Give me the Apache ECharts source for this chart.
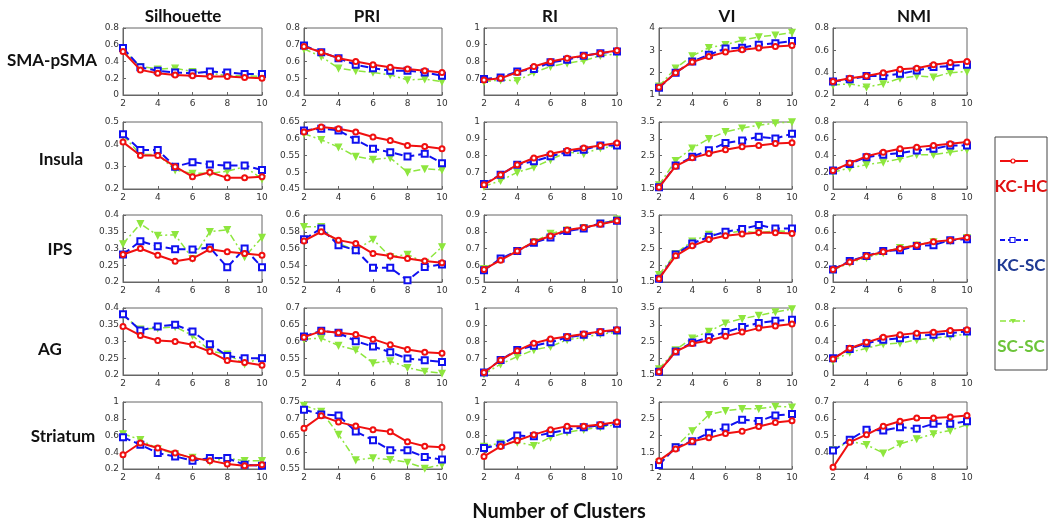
<!DOCTYPE html>
<html><head><meta charset="utf-8">
<script src="https://cdn.jsdelivr.net/npm/echarts@6/dist/echarts.min.js"></script>
<style>html,body{margin:0;padding:0;background:#fff}#c{width:1050px;height:522px}</style>
</head><body><div id="c"></div>
<script>
// ---------- DATA ----------
const clusters = [2,3,4,5,6,7,8,9,10];
const metrics = ['Silhouette','PRI','RI','VI','NMI'];
const regions = ['SMA-pSMA','Insula','IPS','AG','Striatum'];
const seriesNames = ['KC-HC','KC-SC','SC-SC'];
const xTicks = [2,4,6,8,10];

// each array: [Silhouette, PRI, RI, VI, NMI]
const SMA_KCHC = [
  [0.52,0.30,0.26,0.24,0.23,0.22,0.22,0.21,0.20],
  [0.69,0.655,0.62,0.60,0.58,0.565,0.555,0.545,0.535],
  [0.69,0.70,0.735,0.77,0.80,0.82,0.835,0.85,0.865],
  [1.35,2.0,2.48,2.72,2.92,3.03,3.1,3.17,3.22],
  [0.32,0.35,0.37,0.40,0.43,0.44,0.47,0.49,0.50]];
const SMA_KCSC = [
  [0.56,0.33,0.29,0.27,0.26,0.28,0.27,0.25,0.25],
  [0.695,0.655,0.62,0.58,0.56,0.545,0.545,0.535,0.515],
  [0.695,0.705,0.74,0.755,0.795,0.81,0.835,0.85,0.86],
  [1.32,2.0,2.5,2.8,3.08,3.12,3.25,3.32,3.42],
  [0.32,0.34,0.37,0.37,0.39,0.42,0.45,0.46,0.47]];
const SMA_SCSC = [
  [0.54,0.34,0.31,0.32,0.28,0.26,0.23,0.23,0.22],
  [0.675,0.63,0.56,0.545,0.535,0.52,0.49,0.495,0.48],
  [0.68,0.69,0.685,0.735,0.77,0.79,0.805,0.835,0.845],
  [1.4,2.2,2.75,3.12,3.25,3.45,3.6,3.68,3.8],
  [0.29,0.30,0.27,0.30,0.35,0.37,0.36,0.40,0.41]];

const INS_KCHC = [
  [0.41,0.35,0.35,0.30,0.255,0.275,0.25,0.25,0.255],
  [0.62,0.635,0.63,0.62,0.605,0.595,0.58,0.577,0.57],
  [0.625,0.685,0.745,0.785,0.81,0.83,0.845,0.86,0.875],
  [1.55,2.18,2.43,2.56,2.67,2.76,2.8,2.86,2.88],
  [0.22,0.31,0.39,0.44,0.48,0.50,0.52,0.54,0.56]];
const INS_KCSC = [
  [0.445,0.375,0.375,0.30,0.32,0.31,0.305,0.305,0.285],
  [0.625,0.63,0.625,0.597,0.57,0.56,0.547,0.555,0.527],
  [0.63,0.685,0.745,0.765,0.795,0.82,0.835,0.86,0.86],
  [1.55,2.2,2.46,2.66,2.87,2.95,3.06,3.01,3.15],
  [0.22,0.30,0.38,0.41,0.43,0.46,0.48,0.52,0.52]];
const INS_SCSC = [
  [0.44,0.355,0.355,0.285,0.27,0.27,0.28,0.30,0.245],
  [0.615,0.597,0.575,0.547,0.538,0.543,0.50,0.51,0.507],
  [0.615,0.65,0.70,0.73,0.775,0.82,0.81,0.845,0.855],
  [1.62,2.35,2.72,3.0,3.21,3.32,3.4,3.47,3.5],
  [0.20,0.25,0.29,0.32,0.36,0.41,0.41,0.44,0.47]];

const IPS_KCHC = [
  [0.282,0.30,0.28,0.262,0.27,0.298,0.29,0.285,0.28],
  [0.569,0.580,0.570,0.566,0.554,0.551,0.548,0.545,0.543],
  [0.575,0.63,0.685,0.74,0.775,0.81,0.825,0.845,0.865],
  [1.6,2.28,2.58,2.77,2.88,2.93,2.98,2.97,2.95],
  [0.15,0.24,0.31,0.36,0.40,0.44,0.48,0.50,0.53]];
const IPS_KCSC = [
  [0.282,0.322,0.307,0.298,0.297,0.303,0.244,0.30,0.244],
  [0.571,0.584,0.564,0.558,0.537,0.537,0.522,0.538,0.541],
  [0.57,0.64,0.685,0.735,0.765,0.805,0.82,0.85,0.865],
  [1.6,2.32,2.65,2.85,3.0,3.08,3.2,3.1,3.1],
  [0.15,0.25,0.31,0.37,0.38,0.43,0.44,0.50,0.51]];
const IPS_SCSC = [
  [0.314,0.374,0.339,0.341,0.27,0.35,0.356,0.275,0.333],
  [0.586,0.586,0.566,0.558,0.571,0.550,0.553,0.543,0.562],
  [0.58,0.635,0.685,0.74,0.79,0.81,0.825,0.85,0.875],
  [1.72,2.35,2.72,2.92,2.96,3.02,2.97,3.03,3.0],
  [0.14,0.23,0.29,0.35,0.41,0.44,0.48,0.49,0.53]];

const AG_KCHC = [
  [0.345,0.318,0.303,0.30,0.29,0.27,0.243,0.237,0.229],
  [0.613,0.631,0.626,0.621,0.607,0.59,0.576,0.568,0.565],
  [0.615,0.69,0.745,0.79,0.815,0.83,0.845,0.86,0.87],
  [1.6,2.2,2.44,2.53,2.66,2.78,2.9,2.96,3.02],
  [0.19,0.32,0.39,0.45,0.48,0.50,0.51,0.53,0.54]];
const AG_KCSC = [
  [0.381,0.333,0.345,0.35,0.33,0.292,0.257,0.25,0.25],
  [0.615,0.632,0.626,0.601,0.585,0.568,0.549,0.544,0.539],
  [0.615,0.69,0.75,0.775,0.795,0.825,0.84,0.855,0.865],
  [1.6,2.2,2.47,2.63,2.78,2.93,3.05,3.12,3.15],
  [0.20,0.31,0.38,0.42,0.44,0.47,0.48,0.50,0.52]];
const AG_SCSC = [
  [0.378,0.337,0.34,0.344,0.318,0.272,0.262,0.233,0.252],
  [0.607,0.61,0.588,0.575,0.536,0.542,0.522,0.511,0.505],
  [0.605,0.665,0.71,0.75,0.77,0.81,0.825,0.845,0.855],
  [1.68,2.25,2.6,2.8,3.05,3.18,3.28,3.38,3.47],
  [0.17,0.27,0.32,0.37,0.38,0.42,0.44,0.46,0.49]];

const STR_KCHC = [
  [0.37,0.51,0.45,0.39,0.33,0.30,0.26,0.24,0.25],
  [0.672,0.709,0.69,0.678,0.667,0.661,0.631,0.618,0.615],
  [0.675,0.735,0.77,0.805,0.835,0.855,0.855,0.865,0.88],
  [1.25,1.6,1.83,1.93,2.06,2.13,2.27,2.39,2.44],
  [0.31,0.46,0.505,0.555,0.585,0.605,0.605,0.61,0.62]];
const STR_KCSC = [
  [0.58,0.49,0.39,0.35,0.30,0.33,0.33,0.25,0.24],
  [0.727,0.713,0.71,0.662,0.636,0.606,0.606,0.586,0.578],
  [0.725,0.745,0.80,0.795,0.815,0.835,0.85,0.86,0.87],
  [1.12,1.65,1.83,2.08,2.24,2.47,2.43,2.6,2.64],
  [0.41,0.475,0.535,0.53,0.55,0.54,0.57,0.57,0.585]];
const STR_SCSC = [
  [0.62,0.55,0.44,0.38,0.34,0.29,0.33,0.30,0.30],
  [0.74,0.722,0.653,0.577,0.583,0.578,0.57,0.552,0.563],
  [0.735,0.755,0.76,0.74,0.79,0.82,0.835,0.85,0.865],
  [1.2,1.66,2.14,2.62,2.74,2.8,2.8,2.87,2.85],
  [0.415,0.465,0.445,0.395,0.45,0.48,0.51,0.53,0.565]];

// y-axis tick definitions per region: [Sil, PRI, RI, VI, NMI]
const SMA_yMin = [0,0.4,0.6,1,0.2],   SMA_yMax = [0.8,0.8,1,4,0.8],     SMA_yStep = [0.2,0.1,0.1,1,0.2];
const INS_yMin = [0.2,0.45,0.6,1.5,0], INS_yMax = [0.5,0.65,1,3.5,0.8], INS_yStep = [0.1,0.05,0.1,0.5,0.2];
const IPS_yMin = [0.2,0.52,0.5,1.5,0], IPS_yMax = [0.4,0.6,0.9,3.5,0.8], IPS_yStep = [0.05,0.02,0.1,0.5,0.2];
const AG_yMin  = [0.2,0.5,0.6,1.5,0],  AG_yMax  = [0.4,0.7,1,3.5,0.8],  AG_yStep  = [0.05,0.05,0.1,0.5,0.2];
const STR_yMin = [0.2,0.55,0.6,1,0.3], STR_yMax = [1,0.75,1,3,0.7],     STR_yStep = [0.2,0.05,0.1,0.5,0.1];
const hideMinLabel = [[0,0,1,0,0],[0,0,1,0,0],[0,0,0,0,0],[0,0,1,0,0],[0,0,1,0,1]];

const regionData = [
  [SMA_KCHC,SMA_KCSC,SMA_SCSC],[INS_KCHC,INS_KCSC,INS_SCSC],[IPS_KCHC,IPS_KCSC,IPS_SCSC],
  [AG_KCHC,AG_KCSC,AG_SCSC],[STR_KCHC,STR_KCSC,STR_SCSC]];
const regionY = [[SMA_yMin,SMA_yMax,SMA_yStep],[INS_yMin,INS_yMax,INS_yStep],[IPS_yMin,IPS_yMax,IPS_yStep],
  [AG_yMin,AG_yMax,AG_yStep],[STR_yMin,STR_yMax,STR_yStep]];

// ---------- LAYOUT / STYLE ----------
const colLeft = [123,304,484,659,833];
const colWidth = [139,138,133,133,134];
const rowTop = [28,122,215,308,402];
const rowHeight = 67;
const colors = ['#f01010','#1010f0','#8ee63e'];
const lineTypes = ['solid','dashed',[7,3,2,3]];
const symbols = ['emptyCircle','emptyRect','triangle'];
const symbolSizes = [5,6,6];
const lineWidths = [2,2,1.5];
const frame = '#666';
const fmt = v => String(+v.toFixed(3));

const grid=[], xAxis=[], yAxis=[], series=[];
for (let r=0;r<5;r++){
  for (let c=0;c<5;c++){
    const idx = r*5+c;
    grid.push({left:colLeft[c], top:rowTop[r], width:colWidth[c], height:rowHeight,
      show:true, borderColor:frame, borderWidth:1, backgroundColor:'#fff'});
    xAxis.push({type:'value', gridIndex:idx, min:2, max:10, interval:2,
      axisLine:{show:true,lineStyle:{color:frame}}, axisTick:{inside:true,length:3,lineStyle:{color:frame}},
      splitLine:{show:false},
      axisLabel:{fontFamily:'DejaVu Sans',fontSize:9,color:'#333',margin:4,formatter:fmt}});
    const yr = regionY[r];
    yAxis.push({type:'value', gridIndex:idx, min:yr[0][c], max:yr[1][c], interval:yr[2][c],
      axisLine:{show:true,lineStyle:{color:frame}}, axisTick:{inside:true,length:3,lineStyle:{color:frame}},
      splitLine:{show:false},
      axisLabel:{fontFamily:'DejaVu Sans',fontSize:9,color:'#333',margin:4,formatter:fmt,
        showMinLabel: !hideMinLabel[r][c], showMaxLabel:true}});
    for (let s=0;s<3;s++){
      const vals = regionData[r][s][c];
      series.push({type:'line', name:seriesNames[s], xAxisIndex:idx, yAxisIndex:idx,
        data: clusters.map((x,k)=>[x, vals[k]]),
        symbol:symbols[s], symbolSize:symbolSizes[s], symbolRotate: s===2?180:0,
        showAllSymbol:true, animation:false, z: 5-s,
        lineStyle:{color:colors[s], width:lineWidths[s], type:lineTypes[s]},
        itemStyle:{color:colors[s], borderColor:colors[s], borderWidth:1.3}});
    }
  }
}

const titleFont = {fontFamily:'Lato', fontWeight:'bold', fontSize:17, color:'#111'};
const colTitleX = [178,362,545,722,909];
const rowLabelPos = [[47,58],[56,157],[55,247],[45,347],[58,434]];
const titles = [];
metrics.forEach((m,i)=>titles.push({text:m, left:colTitleX[i], top:3, textAlign:'center', textStyle:titleFont}));
regions.forEach((m,i)=>titles.push({text:m, left:rowLabelPos[i][0], top:rowLabelPos[i][1]-11, textAlign:'center', textStyle:titleFont}));
titles.push({text:'Number of Clusters', left:554, top:497, textAlign:'center',
  textStyle:{fontFamily:'Lato', fontWeight:'bold', fontSize:20, color:'#111'}});

// legend box drawn as graphics
const legendY = [161,240,321];
const legendTextColors = ['#e01010','#1f3a93','#6cc43a'];
const graphic = [{type:'rect', shape:{x:995,y:137,width:52,height:233}, style:{fill:'none',stroke:'#444',lineWidth:1}}];
for (let s=0;s<3;s++){
  graphic.push({type:'line', shape:{x1:1000,y1:legendY[s],x2:1028,y2:legendY[s]},
    style:{stroke:colors[s], lineWidth:lineWidths[s], lineDash: s===0?null:(s===1?[5,3]:[6,3,2,3])}});
  if (s===0) graphic.push({type:'circle', shape:{cx:1013,cy:legendY[s],r:2}, style:{fill:'#fff',stroke:colors[s],lineWidth:1.2}});
  if (s===1) graphic.push({type:'rect', shape:{x:1010,y:legendY[s]-2.5,width:5,height:5}, style:{fill:'#fff',stroke:colors[s],lineWidth:1.2}});
  if (s===2) graphic.push({type:'polygon', shape:{points:[[1010,legendY[s]-2],[1016,legendY[s]-2],[1013,legendY[s]+2.5]]}, style:{fill:colors[s]}});
  graphic.push({type:'text', style:{text:seriesNames[s], x:1021, y:legendY[s]+26, textAlign:'center', textVerticalAlign:'middle',
    font:'bold 17px Lato', fill:legendTextColors[s]}});
}

const chart = echarts.init(document.getElementById('c'), null, {renderer:'canvas'});
chart.setOption({animation:false, backgroundColor:'#fff', title:titles, grid, xAxis, yAxis, series, graphic});
</script></body></html>
